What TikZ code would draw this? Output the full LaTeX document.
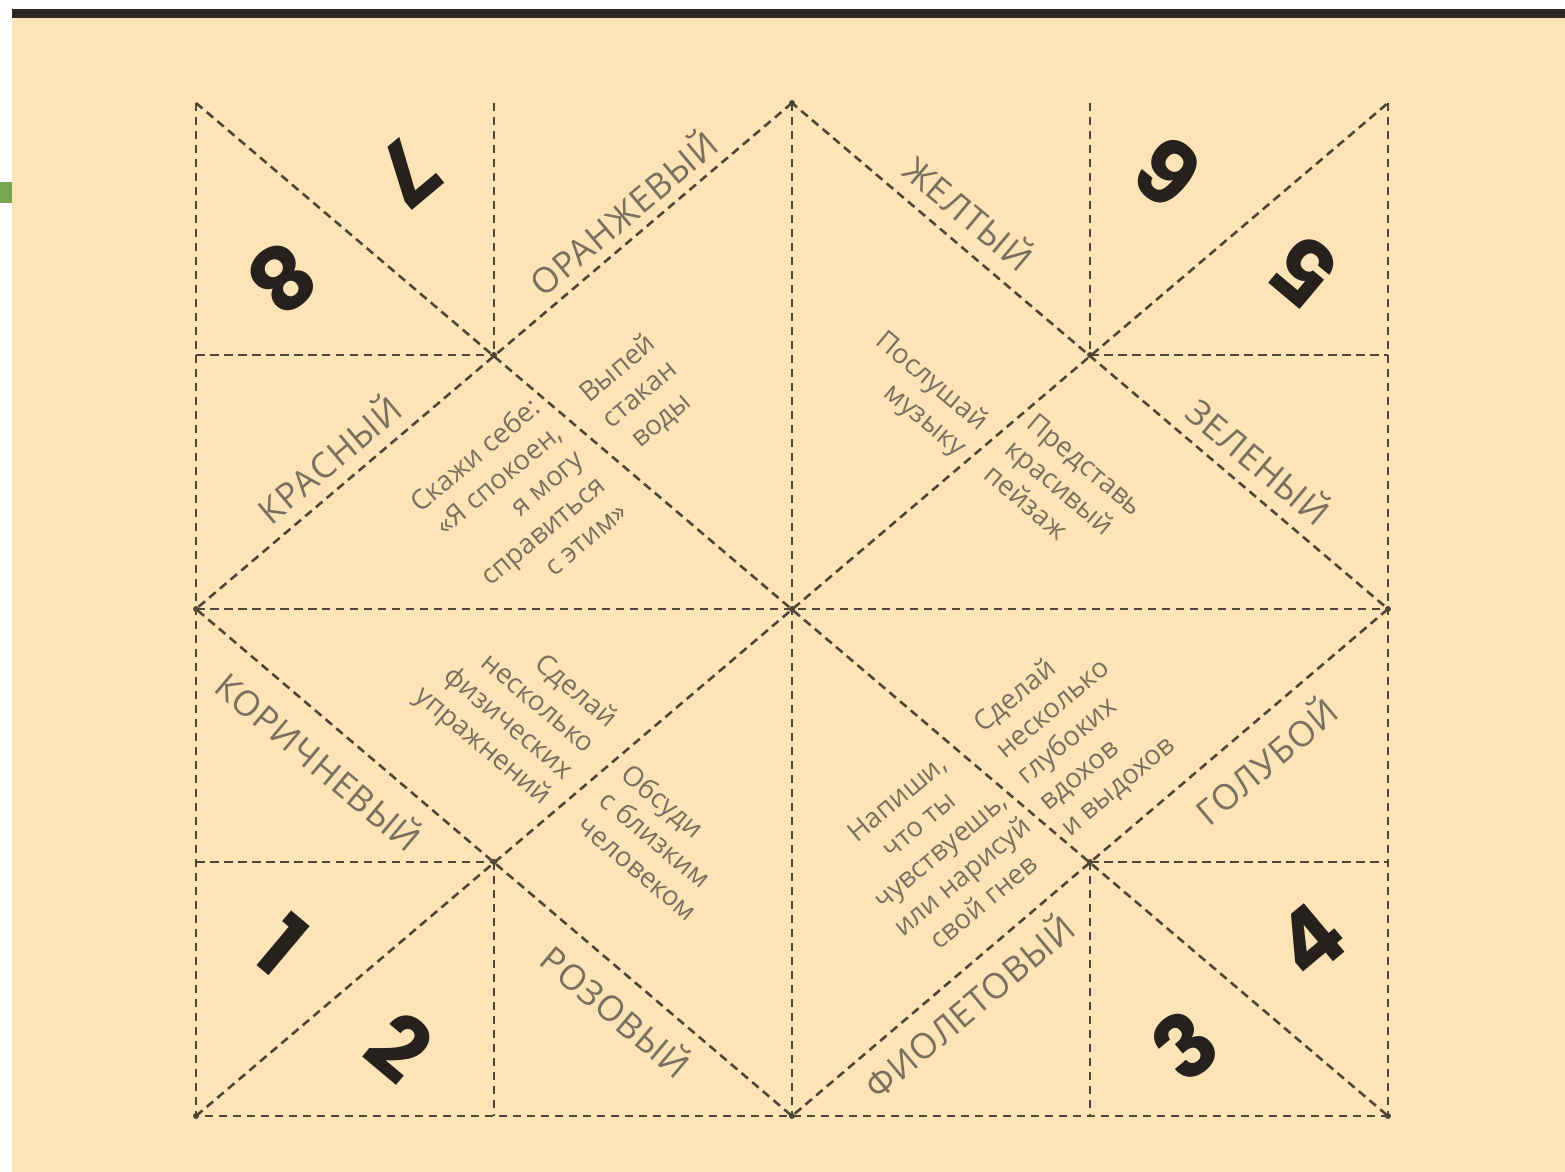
\documentclass[tikz,border=0pt]{standalone}
\usepackage{fontspec}
\setmainfont{Open Sans}
\newfontfamily\labelfont{Open Sans}[LetterSpace=3]
\newfontfamily\digitfont{Poppins}
\usetikzlibrary{positioning}

\definecolor{paper}{RGB}{253,228,182}
\definecolor{foldline}{RGB}{80,70,55}
\definecolor{inkgray}{RGB}{122,112,96}
\definecolor{inkdark}{RGB}{38,33,28}
\definecolor{topbar}{RGB}{45,40,33}
\definecolor{tabgreen}{RGB}{122,165,80}

\begin{document}
\begin{tikzpicture}[x=0.1mm, y=-0.1mm,
	  fold/.style={draw=foldline, line width=0.26mm, dash pattern=on 0.85mm off 0.55mm},
	  colourname/.style={text=inkgray, font=\labelfont\fontsize{10}{12}\selectfont, inner sep=0pt},
	  task/.style={text=inkgray, align=center, font=\fontsize{7.8}{9.6}\selectfont, inner sep=0pt},
	  number/.style={text=inkdark, font=\digitfont\bfseries\fontsize{25}{25}\selectfont, inner sep=0pt}
	]

	% page
	\fill[white] (0,0) rectangle (1565,1172);
	\fill[paper] (12,18) rectangle (1565,1172);
	\fill[topbar] (12,9) rectangle (1565,18);
	\fill[tabgreen] (0,182) rectangle (12,203);
	\useasboundingbox (0,0) rectangle (1565,1172);

	% grid points
	\foreach \c/\x in {0/196,1/494,2/792,3/1090,4/1388}
	  \foreach \r/\y in {0/103,1/355,2/609,3/862,4/1116}
	    \coordinate (p\c\r) at (\x,\y);

	% folds
	\draw[fold] (p00) -- (p04) -- (p44);
	\draw[fold, line width=0.18mm] (p40) -- (p44);
	\draw[fold] (p20) -- (p24);
	\draw[fold] (p02) -- (p42);
	\draw[fold] (p10) -- (p11);
	\draw[fold] (p30) -- (p31);
	\draw[fold] (p13) -- (p14);
	\draw[fold] (p33) -- (p34);
	\draw[fold] (p01) -- (p11);
	\draw[fold] (p31) -- (p41);
	\draw[fold] (p03) -- (p13);
	\draw[fold] (p33) -- (p43);
	\draw[fold] (p00) -- (p44);
	\draw[fold] (p04) -- (p40);
	\draw[fold] (p20) -- (p02) -- (p24) -- (p42) -- cycle;
	\foreach \p in {p11,p31,p13,p33,p22,p20,p02,p24,p42,p04,p44}
	  \fill[foldline] (\p) circle (0.3mm);

	% colours
	\node[colourname, rotate=40] (orange) at (622,212) {ОРАНЖЕВЫЙ};
	\node[colourname, rotate=-40] (yellow) at (970,212) {ЖЕЛТЫЙ};
	\node[colourname, rotate=-40] (green) at (1260,460) {ЗЕЛЕНЫЙ};
	\node[colourname, rotate=40] (red) at (328,458) {КРАСНЫЙ};
	\node[colourname, rotate=-40] (brown) at (320,760) {КОРИЧНЕВЫЙ};
	\node[colourname, rotate=-40] (pink) at (617,1010) {РОЗОВЫЙ};
	\node[colourname, rotate=40] (violet) at (968,1005) {ФИОЛЕТОВЫЙ};
	\node[colourname, rotate=40] (blue) at (1265,760) {ГОЛУБОЙ};

	% numbers
	\node[number, rotate=-140] (seven) at (408,172) {7};
	\node[number, rotate=-140] (eight) at (282,278) {8};
	\node[number, rotate=140] (six) at (1168,172) {6};
	\node[number, rotate=140] (five) at (1305,272) {5};
	\node[number, rotate=-40] (one) at (282,945) {1};
	\node[number, rotate=-40] (two) at (400,1047) {2};
	\node[number, rotate=40] (three) at (1185,1045) {3};
	\node[number, rotate=40] (four) at (1310,940) {4};

	% tasks
	\node[task, rotate=40] (drink) at (640,395) {Выпей\\стакан\\воды};
	\node[task, rotate=40, align=right] (calm) at (518,506) {Скажи себе:\\«Я спокоен,\\я могу\\справиться\\с этим»};
	\node[task, rotate=-40, align=right] (music) at (920,395) {Послушай\\музыку};
	\node[task, rotate=-40, align=left] (landscape) at (1064,490) {Представь\\красивый\\пейзаж};
	\node[task, rotate=-40, align=right] (exercise) at (515,708) {Сделай\\несколько\\физических\\упражнений};
	\node[task, rotate=-40, align=left] (talk) at (660,842) {Обсуди\\с близким\\человеком};
	\node[task, rotate=40, align=left] (breathe) at (1075,735) {Сделай\\несколько\\глубоких\\вдохов\\и выдохов};
	\node[task, rotate=40] (write) at (940,850) {Напиши,\\что ты\\чувствуешь,\\или нарисуй\\свой гнев};

	\end{tikzpicture}
\end{document}
